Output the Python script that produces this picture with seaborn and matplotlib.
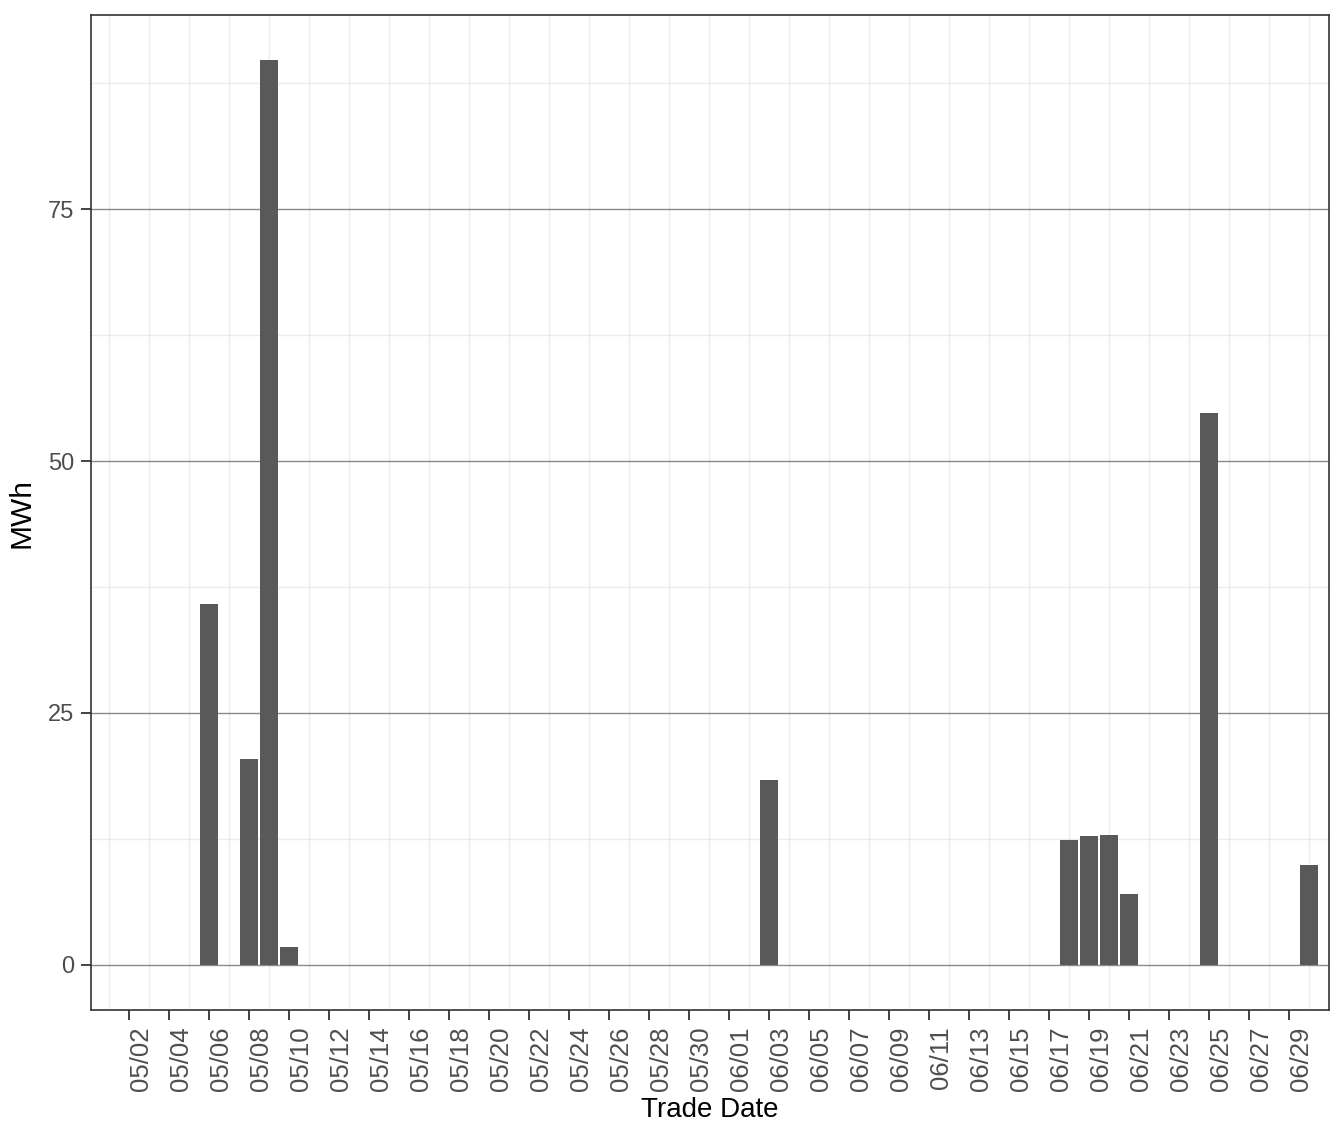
import matplotlib
matplotlib.use("Agg")
import matplotlib.pyplot as plt
import numpy as np
import pandas as pd
import seaborn as sns

# trade dates with non-zero volume and their MWh
trade_dates = ["2019-05-06", "2019-05-08", "2019-05-09", "2019-05-10", "2019-06-03",
               "2019-06-18", "2019-06-19", "2019-06-20", "2019-06-21", "2019-06-25",
               "2019-06-30"]
mwh = [35.8, 20.4, 89.8, 1.8, 18.3, 12.4, 12.8, 12.9, 7.0, 54.8, 9.9]

start = pd.Timestamp("2019-05-02")
tick_dates = pd.date_range("2019-05-02", "2019-06-29", freq="2D")
y_ticks = [0, 25, 50, 75]

df = pd.DataFrame({"date": pd.to_datetime(trade_dates), "MWh": mwh})
df["day"] = (df["date"] - start).dt.days.astype(float)

sns.set_theme(style="white")
plt.rcParams["font.family"] = ["Liberation Sans", "DejaVu Sans"]

fig = plt.figure(figsize=(13.44, 11.42), dpi=100)
ax = fig.add_axes([91 / 1344, 1 - 1010 / 1142, (1329 - 91) / 1344, (1010 - 15) / 1142])

# grid first (ggplot theme_bw look)
for v in np.arange(-1, 61, 2):
    ax.axvline(v, color="#ebebeb", lw=1.0, zorder=0)
for v in [12.5, 37.5, 62.5, 87.5]:
    ax.axhline(v, color="#ebebeb", lw=1.0, zorder=0)
for v in y_ticks:
    ax.axhline(v, color="#8a8a8a", lw=1.0, zorder=0.5)

sns.barplot(data=df, x="day", y="MWh", native_scale=True, width=0.9,
            color="#595959", saturation=1, ax=ax, zorder=2, linewidth=0)

ax.set_xlim(-1.9, 60.0)
ax.set_ylim(-4.5, 94.3)

tick_pos = [(d - start).days for d in tick_dates]
ax.set_xticks(tick_pos)
ax.set_xticklabels([d.strftime("%m/%d") for d in tick_dates], rotation=90,
                   ha="left", va="top")
ax.set_yticks(y_ticks)
ax.set_yticklabels([str(v) for v in y_ticks])

ax.tick_params(axis="both", which="major", length=7, width=1.3, color="#333333",
               labelcolor="#4d4d4d", bottom=True, left=True)
ax.tick_params(axis="x", pad=5, labelsize=18.5)
ax.tick_params(axis="y", pad=5, labelsize=17)

for s in ax.spines.values():
    s.set_color("#333333")
    s.set_linewidth(1.2)

ax.set_xlabel("Trade Date", fontsize=20, color="black", labelpad=4)
ax.set_ylabel("MWh", fontsize=21.5, color="black", labelpad=9)

fig.savefig("out.png", dpi=100)
